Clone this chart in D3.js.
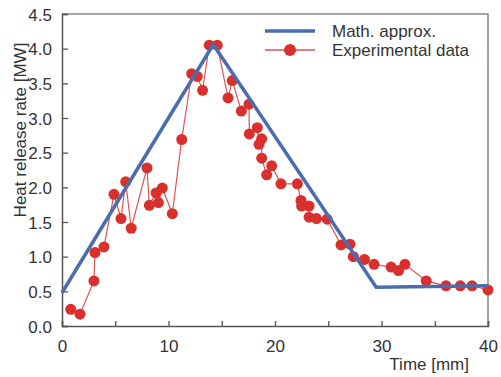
<!DOCTYPE html>
<html>
<head>
<meta charset="utf-8">
<script src="https://cdn.jsdelivr.net/npm/d3@7"></script>
<style>
  body { margin: 0; background: #fff; }
  #chart svg { display: block; font-family: "Liberation Sans", Arial, sans-serif; }
</style>
</head>
<body>
<div id="chart"></div>
<script>
// experimental data (time, heat release rate)
const expTime = [0.82, 1.69, 3.0, 3.1, 3.94, 4.88, 5.54, 5.98, 6.5, 7.98, 8.2, 8.83, 9.05, 9.42, 10.36,
  11.24, 12.18, 12.7, 13.2, 13.83, 14.58, 15.59, 15.99, 16.84, 17.56, 17.59, 18.34, 18.5, 18.75, 18.75,
  19.22, 19.69, 20.56, 22.1, 22.44, 22.5, 23.2, 23.2, 23.9, 24.9, 26.2, 27.04, 27.36, 28.4, 29.3,
  30.9, 31.6, 32.2, 34.2, 36.06, 37.4, 38.5, 40.0];
const expHrr = [0.24, 0.17, 0.65, 1.06, 1.14, 1.90, 1.55, 2.08, 1.41, 2.28, 1.74, 1.92, 1.78, 1.99, 1.62,
  2.69, 3.64, 3.60, 3.40, 4.05, 4.05, 3.29, 3.54, 3.10, 3.20, 2.77, 2.86, 2.62, 2.70, 2.42,
  2.18, 2.31, 2.05, 2.05, 1.81, 1.73, 1.73, 1.57, 1.55, 1.54, 1.17, 1.18, 1.00, 0.96, 0.89,
  0.85, 0.80, 0.89, 0.65, 0.58, 0.58, 0.58, 0.52];

// mathematical approximation
const approxTime = [0, 14.2, 29.5, 40];
const approxHrr = [0.48, 4.06, 0.56, 0.58];

const xTicks = [0, 10, 20, 30, 40];
const xMinorTicks = [5, 15, 25, 35];
const yTicks = [0, 0.5, 1, 1.5, 2, 2.5, 3, 3.5, 4, 4.5];

const width = 501;
const height = 377;
const margin = { top: 14, right: 13, bottom: 51, left: 62 };

const svg = d3.select("#chart")
  .append("svg")
  .attr("width", width)
  .attr("height", height);

const x = d3.scaleLinear().domain([0, 40]).range([margin.left, width - margin.right]);
const y = d3.scaleLinear().domain([0, 4.5]).range([height - margin.bottom, margin.top]);

const axisColor = "#555";
const textColor = "#333";

// frame (top / right)
svg.append("path")
  .attr("d", `M${x(0)},${y(4.5)}H${x(40)}V${y(0)}`)
  .attr("fill", "none")
  .attr("stroke", "#888")
  .attr("stroke-width", 1.5);

// x axis
const xAxis = svg.append("g")
  .attr("transform", `translate(0,${y(0)})`)
  .call(d3.axisBottom(x).tickValues(xTicks).tickSize(-5).tickPadding(14).tickFormat(d3.format("d")));
svg.append("g")
  .attr("transform", `translate(0,${y(0)})`)
  .call(d3.axisBottom(x).tickValues(xMinorTicks).tickSize(-5).tickFormat(""))
  .call(g => g.select(".domain").remove());

// y axis
const yAxis = svg.append("g")
  .attr("transform", `translate(${x(0)},0)`)
  .call(d3.axisLeft(y).tickValues(yTicks).tickSize(-6).tickPadding(10).tickFormat(d3.format(".1f")));

svg.selectAll(".domain").attr("stroke", axisColor).attr("stroke-width", 1.5);
svg.selectAll(".tick line").attr("stroke", axisColor).attr("stroke-width", 1.3);
svg.selectAll(".tick text")
  .attr("fill", textColor)
  .style("font-size", "17px")
  .style("font-family", "'Liberation Sans', Arial, sans-serif");
yAxis.selectAll(".tick text").attr("dy", "0.36em");

// axis labels
svg.append("text")
  .attr("x", 469)
  .attr("y", 370)
  .attr("text-anchor", "end")
  .attr("fill", textColor)
  .style("font-size", "17px")
  .text("Time [mm]");

svg.append("text")
  .attr("transform", `translate(26,130) rotate(-90)`)
  .attr("text-anchor", "middle")
  .attr("fill", textColor)
  .style("font-size", "17px")
  .text("Heat release rate [MW]");

const blue = "#4a6db0";
const red = "#d9302e";

// experimental data
const expData = expTime.map((t, i) => ({ t, v: expHrr[i] }));
const line = d3.line().x(d => x(d.t)).y(d => y(d.v));

svg.append("path")
  .datum(expData)
  .attr("d", line)
  .attr("fill", "none")
  .attr("stroke", "#e05252")
  .attr("stroke-width", 1.2);

svg.selectAll(".dot")
  .data(expData)
  .enter()
  .append("circle")
  .attr("class", "dot")
  .attr("cx", d => x(d.t))
  .attr("cy", d => y(d.v))
  .attr("r", 5.5)
  .attr("fill", red);

// approximation line
const approxData = approxTime.map((t, i) => ({ t, v: approxHrr[i] }));
svg.append("path")
  .datum(approxData)
  .attr("d", line)
  .attr("fill", "none")
  .attr("stroke", blue)
  .attr("stroke-width", 3.5)
  .attr("stroke-linejoin", "miter");

// legend
const legend = svg.append("g");
legend.append("line")
  .attr("x1", 265).attr("x2", 315).attr("y1", 31).attr("y2", 31)
  .attr("stroke", blue).attr("stroke-width", 3.5);
legend.append("text")
  .attr("x", 332).attr("y", 37)
  .attr("fill", textColor)
  .style("font-size", "17px")
  .text("Math. approx.");
legend.append("line")
  .attr("x1", 265).attr("x2", 315).attr("y1", 50).attr("y2", 50)
  .attr("stroke", "#e05252").attr("stroke-width", 1.5);
legend.append("circle")
  .attr("cx", 290).attr("cy", 50).attr("r", 6)
  .attr("fill", red);
legend.append("text")
  .attr("x", 332).attr("y", 56)
  .attr("fill", textColor)
  .style("font-size", "17px")
  .text("Experimental data");
</script>
</body>
</html>
